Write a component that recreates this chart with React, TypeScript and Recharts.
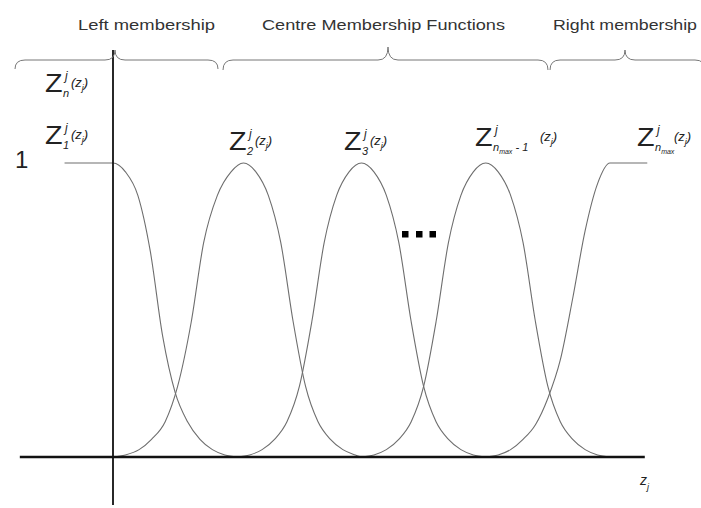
import { LineChart, Line, XAxis, YAxis, ReferenceLine } from "recharts"
import { FC, ReactNode } from "react"

// membership curves, x in units of centre spacing (0 = vertical axis), y = membership degree
const leftX = [-0.39, 0, 0.1, 0.2, 0.3, 0.4, 0.5, 0.6, 0.7, 0.8, 0.9, 1.0]
const leftY = [1, 1, 0.97, 0.89, 0.7, 0.41, 0.22, 0.12, 0.06, 0.025, 0.007, 0]

const z2X = [0, 0.1, 0.21, 0.31, 0.42, 0.52, 0.63, 0.73, 0.84, 0.95, 1.05, 1.15, 1.25, 1.35, 1.45, 1.55, 1.65, 1.75, 1.85, 1.95, 2.0]
const z2Y = [0, 0.007, 0.025, 0.06, 0.12, 0.24, 0.46, 0.73, 0.89, 0.97, 1, 0.97, 0.89, 0.73, 0.46, 0.24, 0.12, 0.06, 0.025, 0.007, 0]

const z3X = [1.0, 1.1, 1.2, 1.3, 1.4, 1.5, 1.6, 1.7, 1.8, 1.9, 2.0, 2.1, 2.2, 2.3, 2.4, 2.5, 2.6, 2.7, 2.8, 2.9, 3.0]
const z3Y = [0, 0.007, 0.025, 0.06, 0.12, 0.24, 0.46, 0.73, 0.89, 0.97, 1, 0.97, 0.89, 0.73, 0.46, 0.24, 0.12, 0.06, 0.025, 0.007, 0]

const zn1X = [2.0, 2.1, 2.2, 2.3, 2.4, 2.5, 2.6, 2.7, 2.8, 2.9, 3.0, 3.1, 3.2, 3.3, 3.4, 3.5, 3.6, 3.7, 3.8, 3.9, 4.0]
const zn1Y = [0, 0.007, 0.025, 0.06, 0.12, 0.24, 0.46, 0.73, 0.89, 0.97, 1, 0.97, 0.89, 0.73, 0.46, 0.24, 0.12, 0.06, 0.025, 0.007, 0]

const rightX = [3.0, 3.1, 3.2, 3.3, 3.4, 3.5, 3.6, 3.7, 3.8, 3.9, 4.0, 4.3]
const rightY = [0, 0.007, 0.025, 0.06, 0.11, 0.2, 0.33, 0.54, 0.77, 0.93, 1, 1]

const groupLabels = ["Left membership", "Centre Membership Functions", "Right membership"]

const toPoints = (xs: number[], ys: number[]) => xs.map((x, i) => ({ x, y: ys[i] }))

const curves = [
    toPoints(leftX, leftY),
    toPoints(z2X, z2Y),
    toPoints(z3X, z3Y),
    toPoints(zn1X, zn1Y),
    toPoints(rightX, rightY),
]

const FONT = "'Liberation Sans', Arial, sans-serif"
const INK = "#222"

const brace = (x0: number, cx: number, x1: number, yl: number, yc: number, ye: number) => {
    const r = 10
    return `M${x0},${ye} Q${x0},${yl} ${x0 + r},${yl} L${cx - r},${yl} Q${cx},${yl} ${cx},${yc} Q${cx},${yl} ${cx + r},${yl} L${x1 - r},${yl} Q${x1},${yl} ${x1},${ye}`
}

type MathProps = { x: number; y: number; sub: ReactNode }

const MathLabel: FC<MathProps> = ({ x, y, sub }) => (
    <g fill={INK} fontFamily={FONT}>
        <text x={x} y={y} fontSize={25} transform={`translate(${x} 0) scale(1.15 1) translate(${-x} 0)`}>Z</text>
        <text x={x + 20} y={y - 12} fontSize={12} fontStyle="italic">j</text>
        <text x={x + 18} y={y + 5} fontSize={11} fontStyle="italic">{sub}</text>
    </g>
)

const Arg: FC<{ x: number; y: number }> = ({ x, y }) => (
    <text x={x} y={y} fontSize={13} fontStyle="italic" fill={INK} fontFamily={FONT}>
        (z<tspan dy={4} fontSize={9}>j</tspan><tspan dy={-4}>)</tspan>
    </text>
)

export default function App() {
    return (
        <div style={{ position: "absolute", left: 0, top: 0, width: 701, height: 508, background: "#fff" }}>
            <LineChart width={701} height={508} margin={{ top: 16, right: 16.45, bottom: 1.02, left: 13.6 }}>
                <XAxis type="number" dataKey="x" domain={[-0.8, 4.6]} hide allowDataOverflow />
                <YAxis type="number" dataKey="y" domain={[-0.17, 1.5]} hide allowDataOverflow />
                {curves.map((c, i) => (
                    <Line
                        key={i}
                        data={c}
                        dataKey="y"
                        type="monotone"
                        stroke="#6e6e6e"
                        strokeWidth={1.1}
                        dot={false}
                        activeDot={false}
                        isAnimationActive={false}
                    />
                ))}
                <ReferenceLine segment={[{ x: -0.75, y: 0 }, { x: 4.28, y: 0 }]} stroke="#111" strokeWidth={2.5} ifOverflow="visible" />
                <ReferenceLine segment={[{ x: 0, y: -0.163 }, { x: 0, y: 1.384 }]} stroke="#111" strokeWidth={1.8} ifOverflow="visible" />
            </LineChart>
            <svg width={701} height={508} style={{ position: "absolute", left: 0, top: 0, pointerEvents: "none" }}>
                <g fill="#333" fontFamily={FONT} fontSize={15}>
                    <text x={78} y={30} textLength={137} lengthAdjust="spacingAndGlyphs">{groupLabels[0]}</text>
                    <text x={262} y={30} textLength={243} lengthAdjust="spacingAndGlyphs">{groupLabels[1]}</text>
                    <text x={553} y={30} textLength={144} lengthAdjust="spacingAndGlyphs">{groupLabels[2]}</text>
                </g>
                <g fill="none" stroke="#777" strokeWidth={1}>
                    <path d={brace(15, 115, 218, 60, 50, 69)} />
                    <path d={brace(223, 388, 548, 60, 47, 70)} />
                    <path d={brace(550, 625, 705, 60, 50, 70)} />
                </g>
                <text x={15} y={168} fontSize={24} fill={INK} fontFamily={FONT}>1</text>

                <MathLabel x={45} y={92} sub="n" />
                <Arg x={71} y={87} />
                <MathLabel x={45} y={144} sub="1" />
                <Arg x={71} y={139} />
                <MathLabel x={229} y={150} sub="2" />
                <Arg x={255} y={145} />
                <MathLabel x={344} y={150} sub="3" />
                <Arg x={370} y={145} />
                <MathLabel
                    x={475}
                    y={146}
                    sub={<>n<tspan dy={3} fontSize={7}>max</tspan><tspan dy={-3}> - 1</tspan></>}
                />
                <Arg x={540} y={141} />
                <MathLabel
                    x={637}
                    y={146}
                    sub={<>n<tspan dy={3} fontSize={7}>max</tspan></>}
                />
                <Arg x={674} y={141} />

                <g fill="#000">
                    <rect x={402} y={231} width={6.5} height={6.5} />
                    <rect x={416} y={231} width={6.5} height={6.5} />
                    <rect x={429.5} y={231} width={6.5} height={6.5} />
                </g>
                <text x={640} y={485} fontSize={14} fontStyle="italic" fill={INK} fontFamily={FONT}>
                    z<tspan dy={5} fontSize={9}>j</tspan>
                </text>
            </svg>
        </div>
    )
}
